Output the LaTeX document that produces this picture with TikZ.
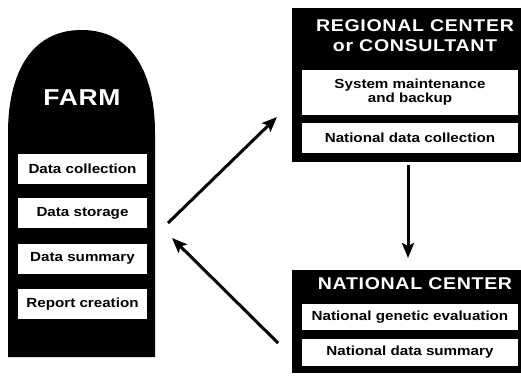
\documentclass[tikz,border=0pt]{standalone}
\usepackage{fontspec}
\setmainfont{Liberation Sans}[FakeStretch=1.15]
\usetikzlibrary{arrows.meta}

\begin{document}
\begin{tikzpicture}[x=1pt,y=-1pt]
        \tikzstyle{inbox}=[fill=white, inner sep=0pt, minimum width=129pt, minimum height=30pt, font=\fontsize{13.2}{14}\selectfont\bfseries]
        \tikzstyle{widebox}=[inbox, minimum width=216pt, align=center]
        \tikzstyle{title}=[text=white, font=\fontsize{17}{20}\selectfont\bfseries\addfontfeature{LetterSpace=4}, align=center]
        \tikzstyle{flow}=[line width=3pt, -{Stealth[length=15pt,width=12pt,inset=3pt]}]

        \useasboundingbox (0,0) rectangle (521,375);

        % Draw farm
        \fill (8,357) -- (8,133) .. controls (8,75) and (30,30) .. (81.5,30)
              .. controls (133,30) and (155,75) .. (155,133) -- (155,357) -- cycle;
        \node[title, font=\fontsize{23}{26}\selectfont\bfseries\addfontfeature{LetterSpace=3}] (farm) at (82,98) {FARM};

        % Add farm tasks
        \node[inbox] (collect) at (82.5,168.5) {Data collection};
        \node[inbox] (store) at (82.5,213) {Data storage};
        \node[inbox] (summary) at (82.5,258.5) {Data summary};
        \node[inbox] (report) at (82.5,304) {Report creation};

        % Draw regional center
        \fill (292,8) rectangle (528,162);
        \node[title] (regional) at (415,36) {REGIONAL CENTER\\or CONSULTANT};
        \node[widebox, minimum height=45pt] (backup) at (410,92.5) {System maintenance\\and backup};
        \node[widebox] (natcollect) at (410,138) {National data collection};

        % Draw national center
        \fill (292,270) rectangle (528,373);
        \node[title] (national) at (415,284) {NATIONAL CENTER};
        \node[widebox, minimum height=26pt] (evaluation) at (410,317) {National genetic evaluation};
        \node[widebox, minimum height=27pt] (natsummary) at (410,352.5) {National data summary};

        % Add arrows
        \coordinate (upstart) at (168,223);
        \coordinate (upend) at (277,117);
        \coordinate (downstart) at (408,165);
        \coordinate (downend) at (408,258);
        \coordinate (backstart) at (278,343);
        \coordinate (backend) at (172,238);
        \draw[flow] (upstart) -- (upend);
        \draw[flow] (downstart) -- (downend);
        \draw[flow] (backstart) -- (backend);
    \end{tikzpicture}
\end{document}
